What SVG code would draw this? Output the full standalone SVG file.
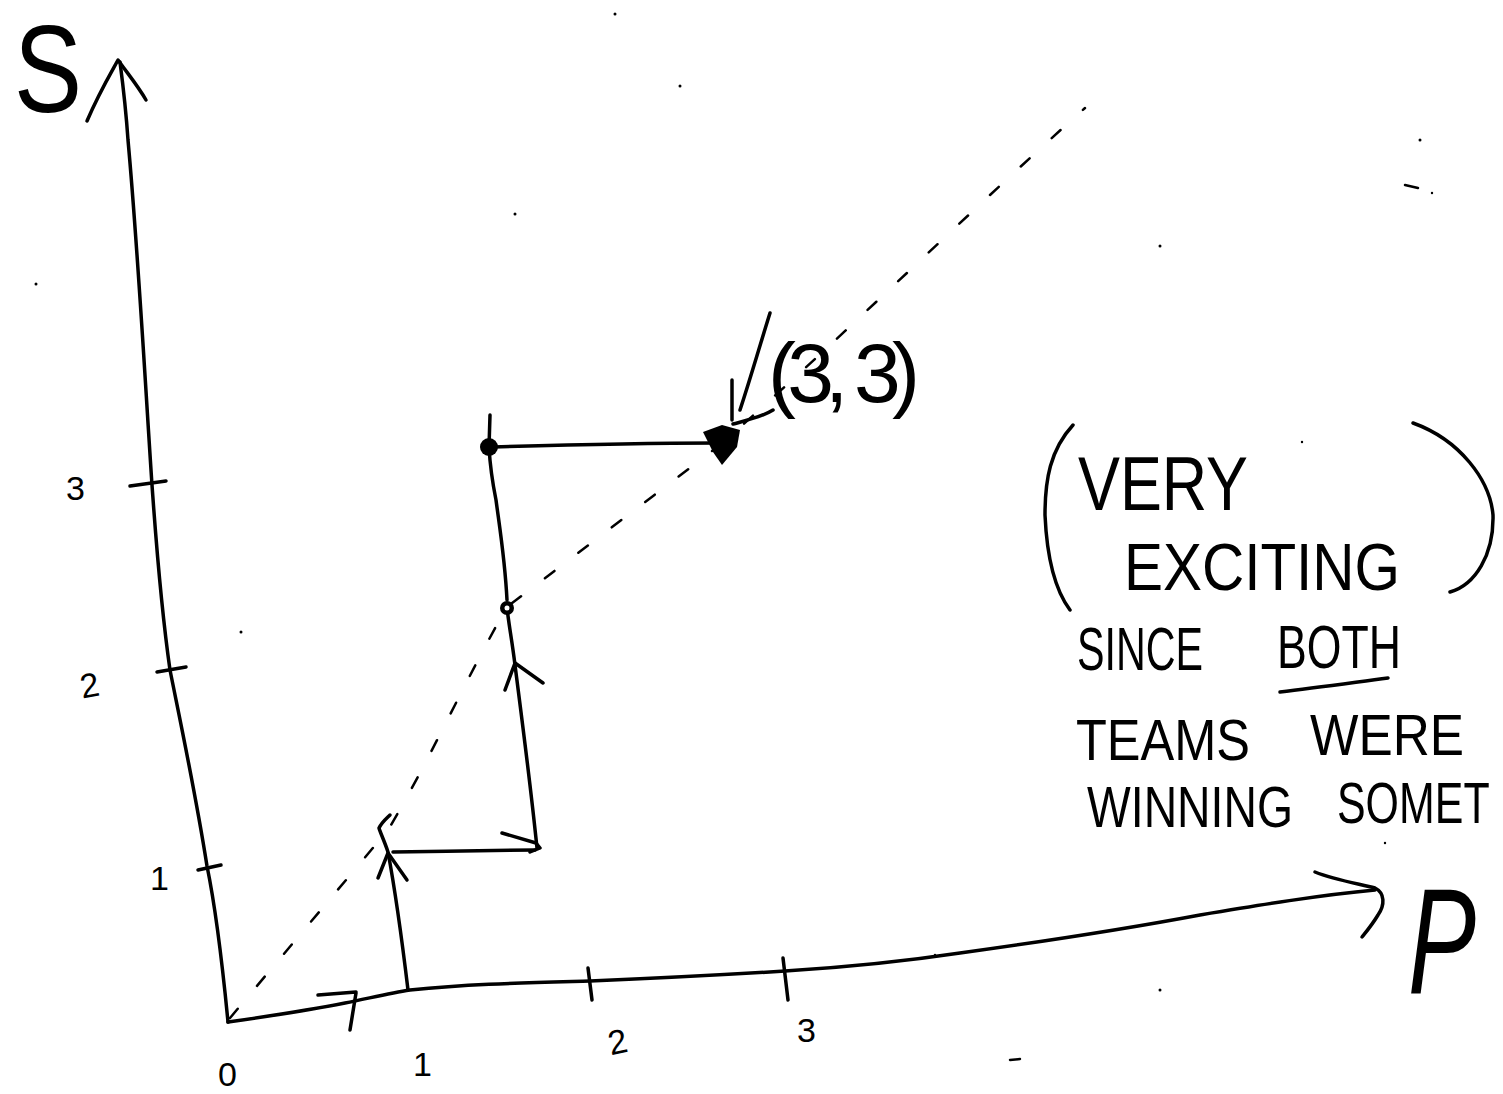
<svg xmlns="http://www.w3.org/2000/svg" width="1503" height="1094" viewBox="0 0 1503 1094">
<style>
.ink{fill:none;stroke:#000;stroke-width:3.5;stroke-linecap:round;stroke-linejoin:round}
.thin{fill:none;stroke:#000;stroke-width:2.5;stroke-linecap:round}
.dash{fill:none;stroke:#000;stroke-width:2.5;stroke-linecap:round;stroke-dasharray:12 30}
.hand{font-family:"Liberation Sans",Arial,sans-serif;fill:#000}
.num{font-family:"Liberation Sans",Arial,sans-serif;fill:#000;font-size:34px}
.speck{fill:#000}
</style>
<rect width="1503" height="1094" fill="#fff"/>

<g id="axes">
  <path class="ink" d="M228,1022 C222,960 214,900 207,866 C195,790 180,720 170,670 C160,600 156,540 152,485 C145,380 138,250 128,140 C126,110 123,85 120,62"/>
  <path class="ink" d="M87,121 C98,95 108,78 118,60 C128,74 138,86 146,100"/>
  <path class="ink" d="M228,1022 C270,1016 310,1010 345,1003 C370,998 390,993 410,990 C470,984 520,983 590,981 C660,978 720,975 785,971 C850,967 900,962 960,953 C1040,942 1120,930 1200,915 C1260,905 1320,895 1375,890"/>
  <path class="ink" d="M1315,872 C1335,880 1360,884 1375,888 C1385,893 1385,905 1378,915 C1372,925 1366,932 1362,937"/>
  <g id="ticks">
    <path class="ink" d="M130,486 L166,481"/>
    <path class="ink" d="M157,672 L186,667"/>
    <path class="ink" d="M198,870 L221,865"/>
    <path class="ink" d="M588,968 L592,1000"/>
    <path class="ink" d="M783,958 L788,1000"/>
    <path class="ink" d="M318,995 L356,992 M356,993 L350,1030"/>
  </g>
  <text class="hand" x="14" y="112" font-size="124" textLength="68" lengthAdjust="spacingAndGlyphs">S</text>
  <text class="hand" transform="translate(1408,993) scale(0.68,1)" x="0" y="0" font-size="150" font-style="italic">P</text>
  <text class="num" x="66" y="500">3</text>
  <text class="num" x="80" y="696" transform="rotate(-10 95 685)">2</text>
  <text class="num" x="150" y="890">1</text>
  <text class="num" x="218" y="1086">0</text>
  <text class="num" x="413" y="1076">1</text>
  <text class="num" x="608" y="1052" transform="rotate(-12 625 1040)">2</text>
  <text class="num" x="797" y="1042" font-size="26">3</text>
</g>

<g id="diagonal">
  <path class="dash" d="M230,1018 L388,830 C430,760 465,680 507,607 L720,445 C850,330 960,220 1085,108"/>
</g>

<g id="connectors">
  <path class="ink" d="M408,990 C402,940 396,895 388,852 C384,840 380,832 379,828 C382,822 387,818 390,815"/>
  <path class="ink" d="M378,878 L388,853 L407,880"/>
  <path class="ink" d="M393,852 C440,851 490,851 535,850"/>
  <path class="ink" d="M502,833 L536,843 L540,848 L530,852"/>
  <path class="ink" d="M537,848 C530,780 522,720 515,665 C512,640 508,620 507,607"/>
  <path class="ink" d="M505,690 L515,663 L543,683"/>
  <path class="ink" d="M507,600 C505,560 500,530 496,500 C492,480 490,465 489,447 L490,415"/>
  <path class="ink" d="M493,447 C560,445 640,443 717,443"/>
  <path class="ink" d="M770,313 C760,345 750,380 740,410"/>
  <path class="ink" d="M732,380 L732,420"/>
  <path class="ink" d="M733,424 C748,420 762,417 773,410"/>
</g>

<g id="node-points">
  <circle cx="489" cy="447" r="9" fill="#000"/>
  <circle cx="507" cy="608" r="7" fill="#000"/>
  <circle cx="507" cy="608" r="2.5" fill="#fff"/>
  <path d="M703,432 L722,425 L740,430 L737,447 L722,465 L713,452 Z" fill="#000"/>
</g>

<g id="label-33">
  <text class="hand" x="768" y="402" font-size="84" textLength="152" lengthAdjust="spacing">(3, 3)</text>
</g>

<g id="note">
  <path class="ink" d="M1073,425 C1050,450 1045,480 1045,515 C1047,560 1055,590 1070,610"/>
  <path class="ink" d="M1413,423 C1460,440 1490,480 1493,515 C1494,555 1475,585 1450,592"/>
  <text class="hand" x="1078" y="510" font-size="76" textLength="170" lengthAdjust="spacingAndGlyphs">VERY</text>
  <text class="hand" x="1124" y="590" font-size="66" textLength="276" lengthAdjust="spacingAndGlyphs">EXCITING</text>
  <text class="hand" x="1077" y="670" font-size="62" textLength="126" lengthAdjust="spacingAndGlyphs">SINCE</text>
  <text class="hand" x="1277" y="668" font-size="62" textLength="124" lengthAdjust="spacingAndGlyphs">BOTH</text>
  <path class="ink" d="M1280,692 C1315,688 1350,683 1388,678"/>
  <text class="hand" x="1076" y="760" font-size="58" textLength="174" lengthAdjust="spacingAndGlyphs">TEAMS</text>
  <text class="hand" x="1310" y="755" font-size="58" textLength="154" lengthAdjust="spacingAndGlyphs">WERE</text>
  <text class="hand" x="1087" y="827" font-size="58" textLength="206" lengthAdjust="spacingAndGlyphs">WINNING</text>
  <text class="hand" transform="translate(1337,823) scale(0.74,1)" x="0" y="0" font-size="58">SOMET</text>
</g>

<g id="specks">
  <circle class="speck" cx="615" cy="14" r="1.5"/>
  <circle class="speck" cx="680" cy="86" r="1.5"/>
  <circle class="speck" cx="515" cy="214" r="1.5"/>
  <circle class="speck" cx="36" cy="284" r="1.5"/>
  <circle class="speck" cx="1420" cy="140" r="1.5"/>
  <path class="thin" d="M1405,185 L1418,188"/>
  <circle class="speck" cx="1432" cy="193" r="1.2"/>
  <circle class="speck" cx="1160" cy="246" r="1.5"/>
  <circle class="speck" cx="241" cy="632" r="1.5"/>
  <circle class="speck" cx="1160" cy="990" r="1.5"/>
  <path class="thin" d="M1010,1060 L1020,1059"/>
  <circle class="speck" cx="1385" cy="843" r="1.2"/>
  <circle class="speck" cx="1302" cy="442" r="1.2"/>
  <circle class="speck" cx="935" cy="955" r="1.2"/>
</g>
</svg>
